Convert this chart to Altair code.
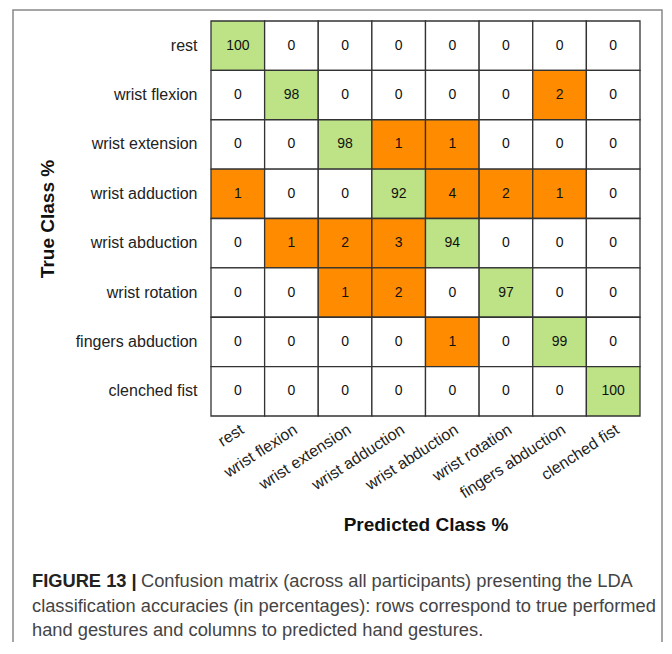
import altair as alt
import pandas as pd

classes = ["rest", "wrist flexion", "wrist extension", "wrist adduction",
           "wrist abduction", "wrist rotation", "fingers abduction", "clenched fist"]

row_rest = [100, 0, 0, 0, 0, 0, 0, 0]
row_flexion = [0, 98, 0, 0, 0, 0, 2, 0]
row_extension = [0, 0, 98, 1, 1, 0, 0, 0]
row_adduction = [1, 0, 0, 92, 4, 2, 1, 0]
row_abduction = [0, 1, 2, 3, 94, 0, 0, 0]
row_rotation = [0, 0, 1, 2, 0, 97, 0, 0]
row_fingers = [0, 0, 0, 0, 1, 0, 99, 0]
row_fist = [0, 0, 0, 0, 0, 0, 0, 100]

matrix = [row_rest, row_flexion, row_extension, row_adduction,
          row_abduction, row_rotation, row_fingers, row_fist]

caption_bold = "FIGURE 13 |"
caption_lines = [
    "Confusion matrix (across all participants) presenting the LDA",
    "classification accuracies (in percentages): rows correspond to true performed",
    "hand gestures and columns to predicted hand gestures.",
]

records = []
for i, t in enumerate(classes):
    for j, p in enumerate(classes):
        v = matrix[i][j]
        kind = "diag" if i == j else ("off" if v > 0 else "zero")
        records.append({"true": t, "pred": p, "value": v, "kind": kind})
df = pd.DataFrame(records)
one = pd.DataFrame({"k": [0]})

FONT = "Liberation Sans"

base = alt.Chart(df)

x_enc = alt.X("pred:N", sort=classes, title="Predicted Class %",
              axis=alt.Axis(labelAngle=327, labelAlign="right", labelBaseline="top",
                            labelPadding=5, ticks=False, domain=False,
                            labelFontSize=16, labelFont=FONT, labelColor="#222",
                            titleFontSize=19, titleFont=FONT, titleFontWeight="bold",
                            titleColor="#111", titleY=114, titleBaseline="alphabetic"))
y_enc = alt.Y("true:N", sort=classes, title="True Class %",
              axis=alt.Axis(ticks=False, domain=False, labelPadding=14,
                            labelFontSize=16, labelFont=FONT, labelColor="#222",
                            titleFontSize=19, titleFont=FONT, titleFontWeight="bold",
                            titleColor="#111", titlePadding=18))

cells = base.mark_rect(stroke="#333", strokeWidth=1.3).encode(
    x=x_enc, y=y_enc,
    color=alt.Color("kind:N", legend=None,
                    scale=alt.Scale(domain=["diag", "off", "zero"],
                                    range=["#bde386", "#ff8c00", "#ffffff"])),
)

labels = base.mark_text(font=FONT, fontSize=14, color="#111").encode(
    x=alt.X("pred:N", sort=classes),
    y=alt.Y("true:N", sort=classes),
    text="value:Q",
)

frame = alt.Chart(one).mark_rect(fill="transparent", stroke="#888", strokeWidth=1.5).encode(
    x=alt.value(-198), x2=alt.value(451), y=alt.value(-11), y2=alt.value(720)
)

CAP_SIZE = 18.3
cap_bold = alt.Chart(one).mark_text(align="left", baseline="alphabetic", font=FONT,
                                    fontSize=CAP_SIZE, fontWeight="bold", color="#222",
                                    text=caption_bold).encode(
    x=alt.value(-179), y=alt.value(566))
cap1 = alt.Chart(one).mark_text(align="left", baseline="alphabetic", font=FONT,
                                fontSize=CAP_SIZE, color="#444", text=caption_lines[0]).encode(
    x=alt.value(-70), y=alt.value(566))
cap2 = alt.Chart(one).mark_text(align="left", baseline="alphabetic", font=FONT,
                                fontSize=CAP_SIZE, color="#444", text=caption_lines[1]).encode(
    x=alt.value(-179), y=alt.value(591))
cap3 = alt.Chart(one).mark_text(align="left", baseline="alphabetic", font=FONT,
                                fontSize=CAP_SIZE, color="#444", text=caption_lines[2]).encode(
    x=alt.value(-179), y=alt.value(615))

chart = alt.layer(cells, labels, frame, cap_bold, cap1, cap2, cap3).properties(
    width=429, height=395,
    autosize=alt.AutoSizeParams(type="none"),
    padding={"left": 203, "top": 13, "right": 24, "bottom": 226},
    background="white",
).configure_view(stroke=None)

chart.save("out.html", embed_options={"renderer": "svg", "actions": False})
